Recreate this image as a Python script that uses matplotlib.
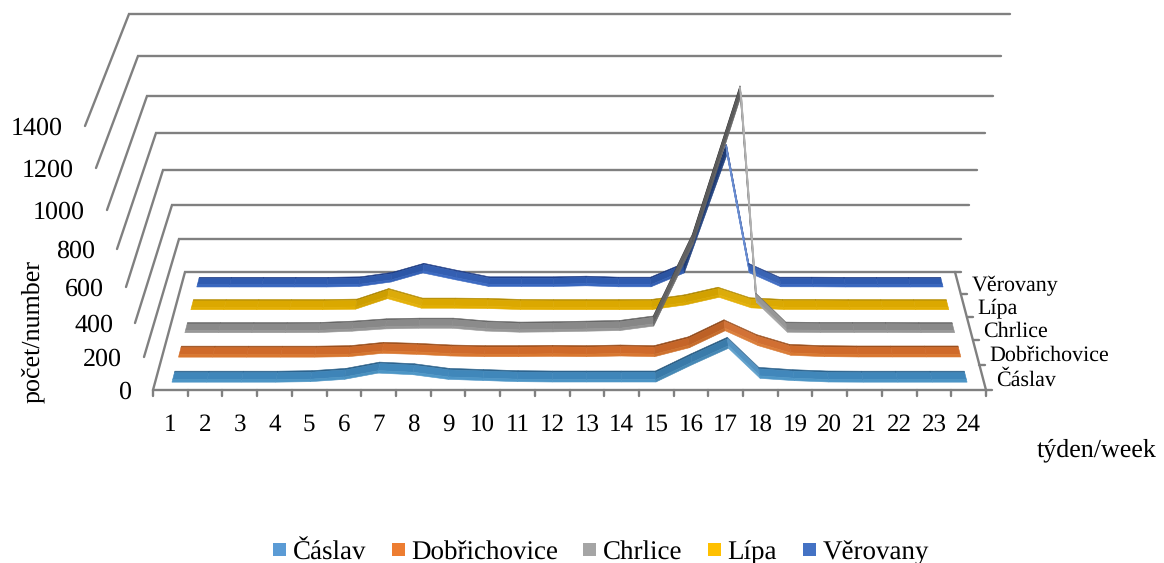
import numpy as np
import matplotlib
matplotlib.use("Agg")
import matplotlib.pyplot as plt
from matplotlib.colors import to_rgb
from matplotlib.patches import Rectangle

plt.rcParams['font.family'] = ['Liberation Serif', 'DejaVu Serif']
plt.rcParams['text.hinting'] = 'no_hinting'
plt.rcParams['text.hinting_factor'] = 1

# ---------- data ----------
weeks = list(range(1, 25))
caslav = [5, 5, 5, 5, 8, 22, 60, 50, 22, 15, 8, 6, 6, 6, 6, 110, 210, 28, 14, 6, 5, 5, 5, 5]
dobrichovice = [5, 5, 5, 5, 5, 8, 28, 22, 12, 8, 8, 10, 8, 12, 8, 62, 165, 75, 16, 8, 6, 6, 6, 6]
chrlice = [5, 5, 5, 5, 6, 14, 28, 32, 32, 15, 8, 10, 14, 18, 45, 525, 1290, 185, 8, 6, 6, 6, 5, 5]
lipa = [5, 5, 5, 5, 5, 8, 72, 14, 14, 12, 6, 5, 5, 5, 6, 34, 80, 16, 6, 6, 5, 5, 5, 5]
verovany = [5, 5, 5, 5, 5, 8, 35, 90, 48, 8, 8, 8, 12, 6, 6, 90, 770, 90, 6, 6, 5, 5, 5, 5]
series_names = ["Čáslav", "Dobřichovice", "Chrlice", "Lípa", "Věrovany"]
series_values = [caslav, dobrichovice, chrlice, lipa, verovany]
y_ticks = [0, 200, 400, 600, 800, 1000, 1200, 1400]

# ---------- styles ----------
legend_colors = ["#5b9bd5", "#ed7d31", "#a5a5a5", "#ffc000", "#4472c4"]
strip_colors = [
    ("#2c628c", "#3f86ba", "#4c95c6"),
    ("#9c4f1c", "#cf6a2a", "#d9772f"),
    ("#666666", "#8a8a8a", "#979797"),
    ("#b58c00", "#dba800", "#e3ae00"),
    ("#1e3c86", "#2f5bb0", "#3766c0"),
]
grid_color = "#808080"

# ---------- projection of the 3-D chart box onto the page (pixels) ----------
front_left_x = [153, 144, 135, 126, 117, 107, 96, 85]
front_y = [390, 357, 323, 287, 249, 210, 168, 126]
back_left_x = [185, 179, 172, 163, 156, 147, 138, 129]
back_right_x = [955, 961, 969, 977, 985, 993, 1001, 1010]
back_y = [272, 239, 205, 170, 133, 96, 56, 14]
front_right_x = [986, 995, 1004, 1013, 1022, 1032, 1043, 1054]
depth_slots = [0, 0.212, 0.424, 0.619, 0.814, 1.0]


def project(week, slot, value):
    week, slot, value = np.asarray(week, float), np.asarray(slot, float), np.asarray(value, float)
    u = (week - 0.5) / 24
    d = np.interp(slot, range(6), depth_slots)
    fl = np.interp(value, y_ticks, front_left_x)
    fr = np.interp(value, y_ticks, front_right_x)
    bl = np.interp(value, y_ticks, back_left_x)
    br = np.interp(value, y_ticks, back_right_x)
    fy = np.interp(value, y_ticks, front_y)
    by = np.interp(value, y_ticks, back_y)
    left = fl + (bl - fl) * d
    right = fr + (br - fr) * d
    return left + (right - left) * u, fy + (by - fy) * d


def mix(color, target, amount):
    c = np.array(to_rgb(color))
    return tuple(c + (np.array(target) - c) * amount)


fig = plt.figure(figsize=(11.64, 5.63), dpi=100)
ax = fig.add_axes([0, 0, 1, 1])
ax.set_xlim(0, 1164)
ax.set_ylim(563, 0)
ax.axis("off")

line_kw = dict(color=grid_color, lw=1.7, solid_capstyle="round", solid_joinstyle="miter", zorder=1)

# walls and gridlines
for i, v in enumerate(y_ticks):
    ax.plot([front_left_x[i], back_left_x[i], back_right_x[i]],
            [front_y[i], back_y[i], back_y[i]], **line_kw)
    ax.text(front_left_x[i] - 22, front_y[i], str(v), ha="right", va="center_baseline", fontsize=18.5, color="black")

# floor
ax.plot([back_right_x[0], front_right_x[0], front_left_x[0]], [back_y[0], front_y[0], front_y[0]], **line_kw)
for k in range(25):
    x0, y0 = project(k + 0.5, 0, 0)
    ax.plot([x0, x0], [y0, y0 + 6], **line_kw)
for s in range(6):
    x0, y0 = project(24.5, s, 0)
    ax.plot([x0, x0 + 6], [y0, y0], **line_kw)

# week labels
for w in weeks:
    x0, _ = project(w, 0, 0)
    ax.text(x0, 422, str(w), ha="center", va="center_baseline", fontsize=18, color="black")

# series labels on the depth axis
for s, name in enumerate(series_names):
    x0, y0 = project(24.5, s + 0.5, 0)
    ax.text(x0 + 13.5, y0 + 0.5, name, ha="left", va="center_baseline", fontsize=15.5, color="black")

# ribbons, back to front
half = 0.22
strip_offsets = [(half, half - 0.06), (half - 0.06, -half + 0.1), (-half + 0.1, -half)]
for s in range(4, -1, -1):
    vals = series_values[s]
    c = s + 0.5
    for i in range(len(weeks) - 1):
        w0, w1 = weeks[i], weeks[i + 1]
        xa, ya = project(w0, c, vals[i])
        xb, yb = project(w1, c, vals[i + 1])
        slope = (ya - yb) / max(xb - xa, 1)
        shade = np.tanh(slope / 2)
        edge = 1.0 if slope < -3 else 0.4
        for j, (o0, o1) in enumerate(strip_offsets):
            p1 = project(w0, c + o0, vals[i])
            p2 = project(w1, c + o0, vals[i + 1])
            p3 = project(w1, c + o1, vals[i + 1])
            p4 = project(w0, c + o1, vals[i])
            base = strip_colors[s][j]
            col = mix(base, (0, 0, 0), 0.38 * shade) if shade > 0 else mix(base, (1, 1, 1), 0.25 * -shade)
            ax.fill([p1[0], p2[0], p3[0], p4[0]], [p1[1], p2[1], p3[1], p4[1]],
                    facecolor=col, edgecolor=col, lw=edge, zorder=3 + (4 - s))

# axis titles
ax.text(33, 332, "počet/number", rotation=90, ha="center", va="center", fontsize=19, color="black")
ax.text(1097, 450, "týden/week", ha="center", va="center", fontsize=19, color="black")

# legend
legend_square_x = [273, 392, 583, 708, 803]
legend_text_x = [293, 411, 603, 727, 823]
for name, col, sx, tx in zip(series_names, legend_colors, legend_square_x, legend_text_x):
    ax.add_patch(Rectangle((sx, 543), 13, 13, facecolor=col, edgecolor="none"))
    ax.text(tx, 550, name, ha="left", va="center_baseline", fontsize=19.3, color="black")

fig.savefig("out.png", dpi=100)
